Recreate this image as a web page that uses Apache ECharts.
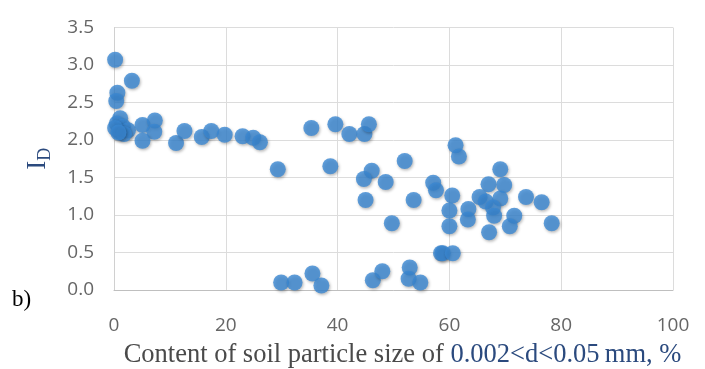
<!DOCTYPE html>
<html><head><meta charset="utf-8">
<script src="https://cdn.jsdelivr.net/npm/echarts@6/dist/echarts.min.js"></script>
<style>html,body{margin:0;padding:0;background:#fff}#c{width:705px;height:369px}</style>
</head><body><div id="c"></div>
<script>
const xTicks = [0, 20, 40, 60, 80, 100];
const yTicks = [0.0, 0.5, 1.0, 1.5, 2.0, 2.5, 3.0, 3.5];
const xValues = [0.2, 3.2, 0.6, 0.4, 1.1, 0.5, 1.6, 1.0, 2.5, 0.2, 1.8, 0.8,
  5.1, 7.3, 7.2, 5.1, 11.1, 12.6, 15.7, 17.4, 19.8, 23.0, 24.9, 26.1,
  35.3, 39.6, 42.1, 44.8, 45.6, 29.3, 38.7, 46.1, 44.7, 48.6, 52.0, 45.0, 53.6,
  57.1, 57.6, 49.7, 58.5, 29.9, 32.3, 35.5, 37.1, 46.3, 48.0, 52.9, 52.7, 54.8,
  61.1, 61.7, 69.1, 67.0, 69.8, 60.5, 65.4, 66.5, 69.1, 73.7, 76.5, 60.0, 63.4,
  63.3, 67.8, 68.0, 71.6, 70.8, 60.0, 67.1, 78.3, 58.8, 60.6];
const yValues = [3.07, 2.79, 2.63, 2.52, 2.29, 2.22, 2.18, 2.11, 2.13, 2.16, 2.08, 2.10,
  2.20, 2.26, 2.11, 1.99, 1.96, 2.12, 2.04, 2.12, 2.07, 2.05, 2.03, 1.97,
  2.16, 2.21, 2.08, 2.08, 2.21, 1.61, 1.65, 1.59, 1.48, 1.44, 1.72, 1.20, 1.20,
  1.43, 1.33, 0.89, 0.49, 0.10, 0.10, 0.22, 0.06, 0.13, 0.25, 0.30, 0.15, 0.10,
  1.93, 1.78, 1.61, 1.41, 1.40, 1.26, 1.24, 1.18, 1.22, 1.24, 1.17, 1.06, 1.08,
  0.94, 1.10, 0.99, 0.99, 0.85, 0.85, 0.77, 0.89, 0.49, 0.49];
const xTitle = ['Content of soil particle size of ', '0.002<d<0.05\u2009mm, %'];
const yTitle = ['I', 'D'];
const panelLabel = 'b)';

const points = xValues.map((x, i) => [x, yValues[i]]);
const chart = echarts.init(document.getElementById('c'));
chart.setOption({
  animation: false,
  grid: {left: 114, right: 32, top: 27.5, bottom: 79, containLabel: false, outerBoundsMode: 'none'},
  xAxis: {
    type: 'value', min: 0, max: 100, interval: 20,
    axisLine: {show: true, lineStyle: {color: '#bfbfbf', width: 1}},
    axisTick: {show: false},
    splitLine: {show: true, lineStyle: {color: '#dcdcdc', width: 1}},
    axisLabel: {color: '#666666', fontSize: 19, fontFamily: 'Open Sans', margin: 26,
      formatter: v => xTicks.includes(v) ? String(v) : ''},
    name: '{a|' + xTitle[0] + '}{b|' + xTitle[1] + '}',
    nameLocation: 'middle', nameGap: 52,
    nameTextStyle: {
      padding: [0, 0, 0, 18],
      rich: {
        a: {fontFamily: 'Liberation Serif', fontSize: 26.5, color: '#4a4a4a'},
        b: {fontFamily: 'Liberation Serif', fontSize: 26.5, color: '#2b4a7e'}
      }
    }
  },
  yAxis: {
    type: 'value', min: 0, max: 3.5, interval: 0.5,
    axisLine: {show: true, lineStyle: {color: '#d0d0d0', width: 1}},
    axisTick: {show: false},
    splitLine: {show: true, lineStyle: {color: '#dcdcdc', width: 1}},
    axisLabel: {color: '#666666', fontSize: 19, fontFamily: 'Open Sans', margin: 20,
      formatter: v => yTicks.some(t => Math.abs(t - v) < 1e-9) ? v.toFixed(1) : ''},
    name: '{i|' + yTitle[0] + '}{d|' + yTitle[1] + '}',
    nameLocation: 'middle', nameRotate: 90, nameGap: 60,
    nameTextStyle: {
      rich: {
        i: {fontFamily: 'Liberation Serif', fontSize: 27, color: '#2b4a7e'},
        d: {fontFamily: 'Liberation Serif', fontSize: 18, color: '#2b4a7e', padding: [14, 0, 0, 0]}
      }
    }
  },
  graphic: [
    {type: 'text', left: 12, top: 288, style: {text: panelLabel, font: '23px "Liberation Serif"', fill: '#000'}}
  ],
  series: [{
    type: 'scatter', data: points, symbolSize: 16,
    itemStyle: {color: '#3a87d2', shadowColor: 'rgba(0,0,0,0.35)', shadowBlur: 3, shadowOffsetX: 1, shadowOffsetY: 1.5}
  }]
});
</script></body></html>
